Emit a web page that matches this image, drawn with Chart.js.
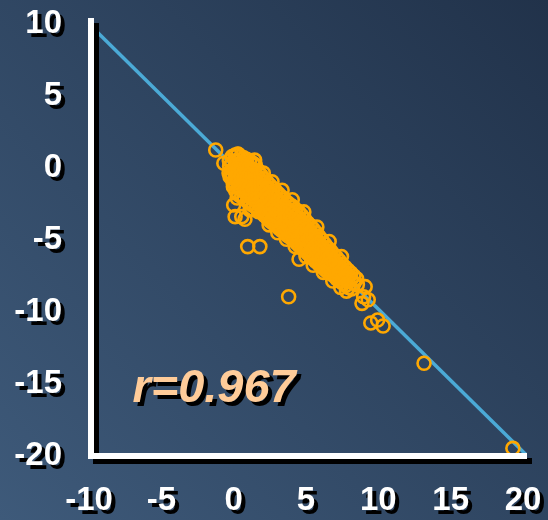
<!DOCTYPE html>
<html>
<head>
<meta charset="utf-8">
<script src="https://cdn.jsdelivr.net/npm/chart.js@4/dist/chart.umd.min.js"></script>
<style>
  html, body { margin: 0; padding: 0; background: #2f4560; }
  canvas { display: block; }
</style>
</head>
<body>
<canvas id="chart" width="548" height="520"></canvas>
<script>
// Axis ticks
const xTicks = [-10, -5, 0, 5, 10, 15, 20];
const yTicks = [-20, -15, -10, -5, 0, 5, 10];

// Regression line end points
const fitLine = [[-10, 10], [20.2, -19.9]];

// Correlation coefficient label
const correlationText = 'r=0.967';

// Dense body of observations
const mainCluster = [
  [-0.3,0.5],[-0.28,0.1],[-0.32,-0.35],[-0.25,-0.6],
  [-0.1,0.8],[-0.12,0.35],[-0.08,-0.1],[-0.1,-0.55],[-0.05,-0.95],[-0.02,-1.3],
  [0.1,0.9],[0.12,0.5],[0.08,0.05],[0.1,-0.4],[0.13,-0.8],[0.1,-1.2],[0.15,-1.6],
  [0.3,0.95],[0.28,0.45],[0.32,0.0],[0.3,-0.45],[0.27,-0.9],[0.31,-1.35],[0.35,-1.85],
  [0.5,0.8],[0.52,0.35],[0.48,-0.1],[0.5,-0.6],[0.53,-1.0],[0.49,-1.5],[0.55,-2.0],
  [0.7,0.7],[0.68,0.25],[0.72,-0.2],[0.7,-0.65],[0.67,-1.1],[0.71,-1.6],[0.74,-2.15],
  [0.9,0.6],[0.92,0.15],[0.88,-0.3],[0.9,-0.8],[0.93,-1.25],[0.89,-1.75],[0.95,-2.3],
  [1.1,0.5],[1.08,0.05],[1.12,-0.4],[1.1,-0.9],[1.07,-1.35],[1.11,-1.85],[1.14,-2.45],
  [1.3,0.35],[1.32,-0.1],[1.28,-0.55],[1.3,-1.0],[1.33,-1.5],[1.29,-2.0],[1.34,-2.6],
  [1.5,0.2],[1.48,-0.3],[1.52,-0.75],[1.5,-1.2],[1.47,-1.7],[1.51,-2.2],[1.55,-2.7],
  [1.7,-0.2],[1.72,-0.65],[1.68,-1.1],[1.7,-1.55],[1.73,-2.0],[1.69,-2.45],[1.74,-2.9],
  [1.9,-0.5],[1.88,-0.95],[1.92,-1.4],[1.9,-1.85],[1.87,-2.3],[1.91,-2.75],[1.95,-3.1],
  [2.1,-0.75],[2.12,-1.2],[2.08,-1.65],[2.1,-2.1],[2.13,-2.55],[2.09,-3.0],[2.14,-3.3],
  [2.3,-0.95],[2.28,-1.4],[2.32,-1.85],[2.3,-2.3],[2.27,-2.75],[2.31,-3.15],[2.35,-3.5],
  [2.5,-1.2],[2.52,-1.65],[2.48,-2.1],[2.5,-2.55],[2.53,-3.0],[2.49,-3.4],[2.54,-3.7],
  [2.7,-1.4],[2.68,-1.85],[2.72,-2.3],[2.7,-2.75],[2.67,-3.2],[2.71,-3.55],[2.75,-3.85],
  [2.9,-1.6],[2.92,-2.05],[2.88,-2.5],[2.9,-2.95],[2.93,-3.4],[2.89,-3.75],[2.94,-4.0],
  [3.1,-1.8],[3.08,-2.25],[3.12,-2.7],[3.1,-3.15],[3.07,-3.6],[3.11,-3.95],[3.15,-4.2],
  [3.3,-2.0],[3.32,-2.45],[3.28,-2.9],[3.3,-3.35],[3.33,-3.8],[3.29,-4.1],[3.34,-4.35],
  [3.5,-2.2],[3.48,-2.65],[3.52,-3.1],[3.5,-3.55],[3.47,-4.0],[3.51,-4.3],[3.55,-4.5],
  [3.7,-2.4],[3.72,-2.85],[3.68,-3.3],[3.7,-3.75],[3.73,-4.15],[3.69,-4.45],[3.74,-4.7],
  [3.9,-2.55],[3.88,-3.0],[3.92,-3.45],[3.9,-3.9],[3.87,-4.3],[3.91,-4.6],[3.95,-4.85],
  [4.1,-2.7],[4.12,-3.15],[4.08,-3.6],[4.1,-4.05],[4.13,-4.45],[4.09,-4.75],[4.14,-5.0],
  [4.3,-2.9],[4.28,-3.35],[4.32,-3.8],[4.3,-4.25],[4.27,-4.65],[4.31,-4.95],[4.35,-5.2],
  [4.5,-3.05],[4.52,-3.5],[4.48,-3.95],[4.5,-4.4],[4.53,-4.8],[4.49,-5.1],[4.54,-5.4],
  [4.7,-3.3],[4.68,-3.75],[4.72,-4.2],[4.7,-4.6],[4.67,-5.0],[4.71,-5.3],[4.75,-5.6],
  [4.9,-3.55],[4.92,-4.0],[4.88,-4.4],[4.9,-4.85],[4.93,-5.25],[4.89,-5.5],[4.94,-5.75],
  [5.1,-3.8],[5.08,-4.25],[5.12,-4.65],[5.1,-5.05],[5.07,-5.45],[5.11,-5.7],[5.15,-5.95],
  [5.3,-4.0],[5.32,-4.45],[5.28,-4.9],[5.3,-5.3],[5.33,-5.7],[5.29,-5.95],[5.34,-6.15],
  [5.5,-4.25],[5.48,-4.7],[5.52,-5.15],[5.5,-5.55],[5.47,-5.9],[5.51,-6.15],[5.55,-6.35],
  [5.7,-4.5],[5.72,-4.95],[5.68,-5.4],[5.7,-5.8],[5.73,-6.2],[5.69,-6.5],
  [5.9,-4.75],[5.88,-5.2],[5.92,-5.6],[5.9,-6.0],[5.87,-6.35],[5.91,-6.7],
  [6.1,-5.0],[6.12,-5.45],[6.08,-5.85],[6.1,-6.25],[6.13,-6.55],[6.09,-6.85],
  [6.3,-5.3],[6.28,-5.7],[6.32,-6.1],[6.3,-6.45],[6.27,-6.8],[6.31,-7.05],
  [6.5,-5.55],[6.52,-5.95],[6.48,-6.35],[6.5,-6.7],[6.53,-7.0],[6.49,-7.2],
  [6.7,-5.75],[6.68,-6.15],[6.72,-6.55],[6.7,-6.95],[6.73,-7.35],
  [6.9,-6.0],[6.92,-6.4],[6.88,-6.8],[6.9,-7.15],[6.95,-7.5],
  [7.1,-6.2],[7.08,-6.6],[7.12,-7.0],[7.1,-7.35],[7.14,-7.7],
  [7.3,-6.45],[7.32,-6.85],[7.28,-7.25],[7.3,-7.6],[7.34,-7.85],
  [7.5,-6.7],[7.48,-7.1],[7.52,-7.5],[7.5,-7.8],[7.55,-8.0],
  [7.7,-6.9],[7.72,-7.3],[7.68,-7.7],[7.75,-8.15],
  [7.9,-7.1],[7.88,-7.5],[7.92,-7.9],[7.95,-8.3],
  [8.1,-7.3],[8.12,-7.75],[8.15,-8.4],
  [8.3,-7.5],[8.32,-8.0],
  [8.5,-7.7],[8.55,-8.1]
];

// Observations along the ragged edges of the main body
const edgeRings = [
  [1.45,0.55],[2.05,-0.35],[2.65,-0.95],[3.35,-1.55],[4.05,-2.2],[4.85,-3.05],[5.75,-4.1],[6.6,-5.1],[7.45,-6.15],
  [2.45,-3.95],[3.05,-4.5],[3.65,-4.95],[4.25,-5.45],[5.0,-6.15],[5.5,-6.75],[6.2,-7.25],[6.85,-7.85],[7.4,-8.3],[7.8,-8.55]
];

// Scattered observations away from the main body
const outliers = [
  [-1.24,1.25],[-0.68,0.33],[0.29,0.97],[1.38,0.28],
  [0.0,-2.57],[0.24,-2.08],[0.1,-3.38],[0.56,-3.38],[0.78,-3.56],
  [1.13,-2.92],[1.25,-2.85],[1.71,-3.03],
  [0.97,-5.46],[1.81,-5.46],[3.8,-8.94],[4.52,-6.34],
  [9.09,-8.24],[8.98,-8.94],[8.87,-9.4],[9.3,-9.15],
  [9.48,-10.76],[9.95,-10.56],[10.33,-10.97],
  [13.16,-13.56],[19.3,-19.47]
];

const FONT = '"Liberation Sans", Arial, sans-serif';
const SHADOW = 4;

// Background, hard drop shadows under tick labels, white axis frame and the r label
const decor = {
  id: 'decor',
  beforeDraw(chart) {
    const { ctx, width, height } = chart;
    const g = ctx.createLinearGradient(0, height, width, 0);
    g.addColorStop(0, '#3e5a7a');
    g.addColorStop(1, '#21324a');
    ctx.save();
    ctx.fillStyle = g;
    ctx.fillRect(0, 0, width, height);
    ctx.restore();

    // black copies of the tick labels, offset down-right
    for (const id of ['x', 'y']) {
      const scale = chart.scales[id];
      for (const item of scale.getLabelItems()) {
        const o = item.options;
        ctx.save();
        ctx.translate(o.translation[0] + SHADOW, o.translation[1] + SHADOW);
        if (o.rotation) ctx.rotate(o.rotation);
        ctx.font = item.font.string;
        ctx.fillStyle = '#000';
        ctx.textAlign = o.textAlign;
        ctx.textBaseline = o.textBaseline;
        ctx.fillText(String(item.label), 0, item.textOffset);
        ctx.restore();
      }
    }
  },
  afterDatasetsDraw(chart) {
    const { ctx } = chart;
    const xs = chart.scales.x, ys = chart.scales.y;
    const x0 = xs.getPixelForValue(-10) + 2;
    const yTop = ys.getPixelForValue(10) - 6;
    const yBase = ys.getPixelForValue(-20);
    const xEnd = xs.getPixelForValue(20) + 4;
    const frame = (dx, dy, color) => {
      ctx.strokeStyle = color;
      ctx.lineWidth = 6;
      ctx.lineJoin = 'miter';
      ctx.beginPath();
      ctx.moveTo(x0 + dx, yTop + dy);
      ctx.lineTo(x0 + dx, yBase + dy);
      ctx.lineTo(xEnd + dx, yBase + dy);
      ctx.stroke();
    };
    ctx.save();
    frame(5, 5, '#000');
    frame(0, 0, '#ffffff');

    ctx.font = 'italic bold 47px ' + FONT;
    ctx.textAlign = 'left';
    ctx.textBaseline = 'alphabetic';
    const tx = xs.getPixelForValue(-7.0), ty = ys.getPixelForValue(-16.25);
    ctx.fillStyle = '#000';
    ctx.fillText(correlationText, tx + SHADOW, ty + SHADOW);
    ctx.fillStyle = '#FFCC99';
    ctx.fillText(correlationText, tx, ty);
    ctx.restore();
  }
};

const tickFont = { family: FONT, size: 33, weight: 'bold' };
const noGrid = { display: false, drawTicks: false, tickLength: 0 };
const zeroPad = s => { s.paddingTop = 0; s.paddingBottom = 0; s.paddingLeft = 0; s.paddingRight = 0; };

new Chart(document.getElementById('chart'), {
  type: 'scatter',
  data: {
    datasets: [
      {
        data: mainCluster.concat(edgeRings, outliers),
        pointRadius: 6.5,
        pointBorderWidth: 2.6,
        pointBorderColor: '#FFA800',
        pointBackgroundColor: 'rgba(0,0,0,0)',
        order: 0
      },
      {
        data: fitLine,
        showLine: true,
        borderColor: '#4BAAD6',
        borderWidth: 3.5,
        pointRadius: 0,
        clip: false,
        order: 1
      }
    ]
  },
  options: {
    responsive: false,
    animation: false,
    devicePixelRatio: 1,
    layout: { padding: { left: 0, right: 25, top: 24, bottom: 0 } },
    plugins: { legend: { display: false }, tooltip: { enabled: false } },
    scales: {
      x: {
        type: 'linear', min: -10, max: 20,
        grid: noGrid, border: { display: false },
        afterBuildTicks: s => { s.ticks = xTicks.map(v => ({ value: v })); },
        afterFit: s => { s.height = 64; zeroPad(s); },
        ticks: { color: '#ffffff', font: tickFont, padding: 25, maxRotation: 0, autoSkip: false }
      },
      y: {
        type: 'linear', min: -20, max: 10,
        grid: noGrid, border: { display: false },
        afterBuildTicks: s => { s.ticks = yTicks.map(v => ({ value: v })); },
        afterFit: s => { s.width = 89; zeroPad(s); },
        ticks: { color: '#ffffff', font: tickFont, padding: 27, autoSkip: false }
      }
    }
  },
  plugins: [decor]
});
</script>
</body>
</html>
